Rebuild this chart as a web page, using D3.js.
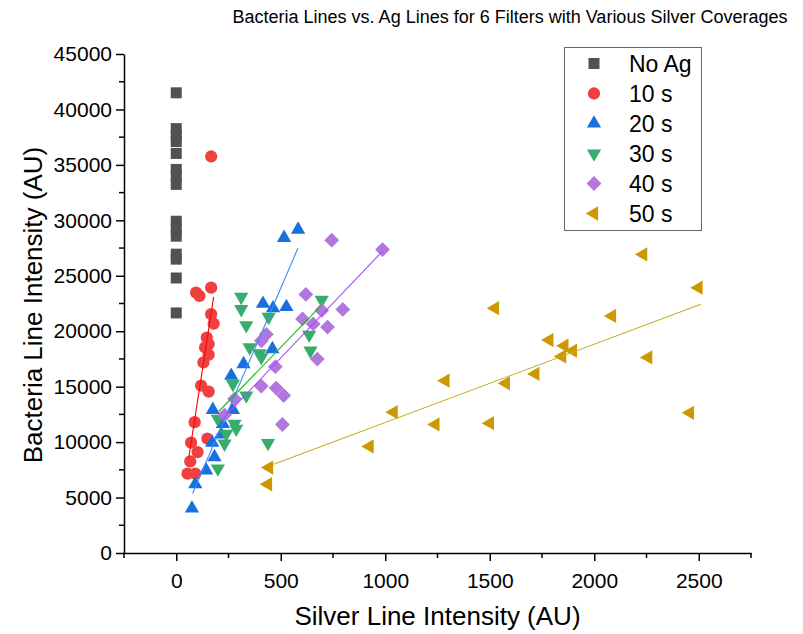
<!DOCTYPE html>
<html>
<head>
<meta charset="utf-8">
<script src="https://cdn.jsdelivr.net/npm/d3@7"></script>
<style>
  body { margin: 0; background: #fff; }
  svg text { font-family: "Liberation Sans", Arial, sans-serif; fill: #000; }
</style>
</head>
<body>
<svg id="chart" width="803" height="634"></svg>
<script>
"use strict";

// series names, as in the legend
var seriesNames = ['No Ag', '10 s', '20 s', '30 s', '40 s', '50 s'];

// silver line intensity (x) and bacteria line intensity (y)
var noAgAg = [0, 0, 0, 0, 0, 0, 0, 0, 0, 0, 0, 0, 0, 0, 0];
var noAgBac = [41500, 38270, 37630, 37100, 36030, 34590, 33960, 33240, 29920, 29290, 28570, 26950, 26500, 24800, 21650];

var s10Ag = [167, 95, 111, 167, 167, 179, 146, 155, 138, 155, 130, 119, 155, 88, 149, 71, 102, 67, 54, 91];
var s10Bac = [35760, 23480, 23180, 23930, 21540, 20690, 19430, 18840, 18540, 17880, 17190, 15090, 14560, 11800, 10310, 9950, 9100, 8270, 7160, 7160];

var s20Ag = [75, 91, 143, 183, 172, 215, 223, 175, 271, 263, 322, 460, 415, 463, 527, 516, 583];
var s20Bac = [4020, 6200, 7460, 8650, 9950, 10690, 11650, 12910, 12910, 15990, 17040, 18390, 22490, 22080, 22190, 28420, 29170];

var s30Ag = [311, 311, 335, 442, 351, 399, 407, 696, 636, 642, 271, 335, 199, 279, 287, 239, 231, 439, 199];
var s30Bac = [23090, 21990, 20530, 21290, 18540, 18010, 17650, 22820, 19680, 18240, 15250, 14200, 12100, 11650, 11200, 10750, 9860, 9910, 7610];

var s40Ag = [744, 987, 620, 797, 696, 604, 655, 724, 675, 431, 407, 474, 407, 478, 514, 279, 231, 508];
var s40Bac = [28210, 27360, 23320, 21970, 21880, 21110, 20660, 20370, 17490, 19720, 19140, 16800, 15050, 14870, 14200, 13900, 12440, 11590];

var s50Ag = [2234, 2499, 1525, 2085, 1785, 1857, 1898, 1846, 2258, 1718, 1577, 1288, 1240, 1501, 2458, 1040, 925, 444, 439];
var s50Bac = [26930, 23930, 22080, 21380, 19200, 18690, 18240, 17730, 17640, 16150, 15300, 15540, 11590, 11710, 12640, 12700, 9610, 7700, 6200];

// linear fit lines, [start, end] in data units
var fit10Ag = [60, 179], fit10Bac = [8600, 23100];
var fit20Ag = [78, 583], fit20Bac = [5360, 27520];
var fit30Ag = [203, 696], fit30Bac = [12760, 22370];
var fit40Ag = [215, 987], fit40Bac = [11950, 27220];
var fit50Ag = [466, 2510], fit50Bac = [8000, 22430];

// axis ticks
var xTicks = [0, 500, 1000, 1500, 2000, 2500];
var yTicks = [0, 5000, 10000, 15000, 20000, 25000, 30000, 35000, 40000, 45000];

var markerColors = ['#515151', '#f14040', '#1a6fdf', '#37ad6b', '#b177de', '#cc9900'];
var fitColors = [null, '#ff0000', '#3a8ef6', '#1fb81f', '#a94dfa', '#c4b02a'];

(function () {
  var series = [
    { x: noAgAg, y: noAgBac, shape: 'square', fit: null },
    { x: s10Ag, y: s10Bac, shape: 'circle', fit: [fit10Ag, fit10Bac] },
    { x: s20Ag, y: s20Bac, shape: 'up', fit: [fit20Ag, fit20Bac] },
    { x: s30Ag, y: s30Bac, shape: 'down', fit: [fit30Ag, fit30Bac] },
    { x: s40Ag, y: s40Bac, shape: 'diamond', fit: [fit40Ag, fit40Bac] },
    { x: s50Ag, y: s50Bac, shape: 'left', fit: [fit50Ag, fit50Bac] }
  ];

  var svg = d3.select('#chart');
  var margin = { left: 124, right: 751, top: 54, bottom: 553 };
  var FONT = '"Liberation Sans", Arial, sans-serif';

  var x = d3.scaleLinear().domain([-250, 2750]).range([margin.left, margin.right]);
  var y = d3.scaleLinear().domain([0, 45000]).range([margin.bottom, margin.top]);

  function symbolPath(shape) {
    var gen = d3.symbol();
    if (shape === 'square') return { d: gen.type(d3.symbolSquare).size(121)(), rot: 0 };
    if (shape === 'circle') return { d: gen.type(d3.symbolCircle).size(118)(), rot: 0 };
    if (shape === 'up') return { d: gen.type(d3.symbolTriangle).size(88)(), rot: 0 };
    if (shape === 'down') return { d: gen.type(d3.symbolTriangle).size(88)(), rot: 180 };
    if (shape === 'diamond') return { d: gen.type(d3.symbolSquare).size(110)(), rot: 45 };
    return { d: gen.type(d3.symbolTriangle).size(88)(), rot: -90 };
  }

  // Show the markers
  var markers = svg.append('g');
  series.forEach(function (s, i) {
    var sym = symbolPath(s.shape);
    markers.append('g').selectAll('path')
      .data(d3.range(s.x.length))
      .enter().append('path')
      .attr('d', sym.d)
      .attr('fill', markerColors[i])
      .attr('transform', function (k) {
        return 'translate(' + x(s.x[k]) + ',' + y(s.y[k]) + ') rotate(' + sym.rot + ')';
      });
  });

  // fit lines on top of the markers
  var fits = svg.append('g');
  series.forEach(function (s, i) {
    if (!s.fit) return;
    fits.append('line')
      .attr('x1', x(s.fit[0][0])).attr('y1', y(s.fit[1][0]))
      .attr('x2', x(s.fit[0][1])).attr('y2', y(s.fit[1][1]))
      .attr('stroke', fitColors[i])
      .attr('stroke-width', 1.1);
  });

  // Add bottom X axis
  var xMinor = d3.range(-250, 2751, 500);
  var xAxis = svg.append('g').attr('transform', 'translate(0,' + margin.bottom + ')');
  xAxis.call(d3.axisBottom(x).tickValues(xTicks).tickSize(8).tickSizeOuter(0).tickPadding(12).tickFormat(d3.format('d')));
  xAxis.append('g').selectAll('line').data(xMinor).enter().append('line')
    .attr('x1', function (d) { return x(d); }).attr('x2', function (d) { return x(d); })
    .attr('y1', 0).attr('y2', 5).attr('stroke', '#000').attr('stroke-width', 1.5);

  // Add left Y axis
  var yMinor = d3.range(2500, 45000, 5000);
  var yAxis = svg.append('g').attr('transform', 'translate(' + margin.left + ',0)');
  yAxis.call(d3.axisLeft(y).tickValues(yTicks).tickSize(8).tickSizeOuter(0).tickPadding(4).tickFormat(d3.format('d')));
  yAxis.append('g').selectAll('line').data(yMinor).enter().append('line')
    .attr('y1', function (d) { return y(d); }).attr('y2', function (d) { return y(d); })
    .attr('x1', 0).attr('x2', -5).attr('stroke', '#000').attr('stroke-width', 1.5);

  [xAxis, yAxis].forEach(function (a) {
    a.select('.domain').attr('stroke', '#000').attr('stroke-width', 1.5);
    a.selectAll('.tick line').attr('stroke', '#000').attr('stroke-width', 1.5);
    a.selectAll('.tick text').attr('font-size', 21).attr('font-family', FONT).attr('fill', '#000');
  });

  // titles
  svg.append('text').attr('x', 510).attr('y', 23).attr('text-anchor', 'middle')
    .attr('font-size', 18).text('Bacteria Lines vs. Ag Lines for 6 Filters with Various Silver Coverages');
  svg.append('text').attr('x', (margin.left + margin.right) / 2).attr('y', 625).attr('text-anchor', 'middle')
    .attr('font-size', 26).text('Silver Line Intensity (AU)');
  svg.append('text').attr('transform', 'translate(42,305) rotate(-90)')
    .attr('text-anchor', 'middle').attr('font-size', 26).text('Bacteria Line Intensity (AU)');

  // legend
  var legend = svg.append('g');
  legend.append('rect').attr('x', 564.5).attr('y', 47.5).attr('width', 137).attr('height', 183)
    .attr('fill', '#fff').attr('stroke', '#666').attr('stroke-width', 1);
  series.forEach(function (s, i) {
    var sym = symbolPath(s.shape);
    var cy = 63.5 + i * 30;
    legend.append('path').attr('d', sym.d).attr('fill', markerColors[i])
      .attr('transform', 'translate(594,' + cy + ') rotate(' + sym.rot + ')');
    legend.append('text').attr('x', 629).attr('y', cy + 8).attr('font-size', 23).text(seriesNames[i]);
  });
})();
</script>
</body>
</html>
